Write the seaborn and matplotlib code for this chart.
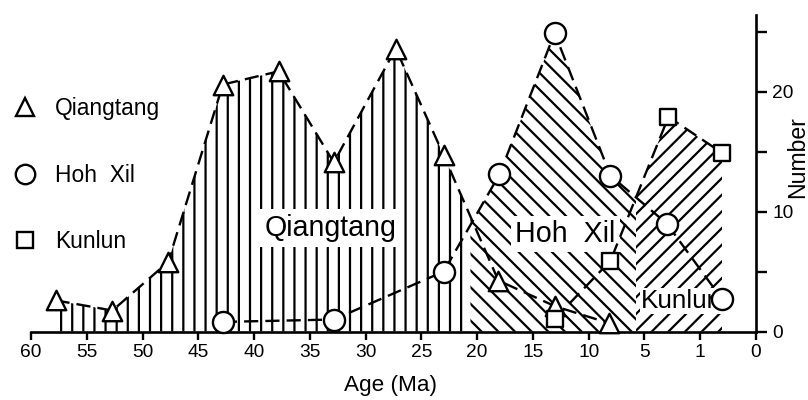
import numpy as np
import pandas as pd
import matplotlib
matplotlib.use("Agg")
import matplotlib.pyplot as plt
import seaborn as sns
from matplotlib.lines import Line2D

# ---------------- data ----------------
qt_age = [57.8, 52.7, 47.7, 42.8, 37.8, 32.85, 27.3, 23.0, 18.1, 13.0, 8.2]
qt_num = [2.6, 1.75, 5.8, 20.6, 21.7, 14.1, 23.6, 14.7, 4.25, 2.1, 0.7]

hx_age = [42.8, 32.85, 23.0, 18.0, 13.05, 8.05, 3.0, -1.95]
hx_num = [0.8, 1.0, 5.0, 13.1, 24.9, 13.0, 9.0, 2.7]

kl_age = [13.05, 8.05, 2.85, -1.95]
kl_num = [1.05, 5.9, 17.9, 14.9]

series_labels = ["Qiangtang", "Hoh  Xil", "Kunlun"]
x_tick_pos = [60, 55, 50, 45, 40, 35, 30, 25, 20, 15, 10, 5, 0, -5]
x_tick_labels = ["60", "55", "50", "45", "40", "35", "30", "25", "20", "15", "10", "5", "1", "0"]
y_major = [0, 10, 20]
y_minor = [5, 15, 25]

# region limits (age) of the hatched areas
qt_hx_split = 20.6
hx_kl_split = 5.76

# ---------------- style ----------------
sns.set_style("ticks")
plt.rcParams["font.family"] = ["Liberation Sans", "DejaVu Sans"]
plt.rcParams["hatch.linewidth"] = 0.8
plt.rcParams["hatch.color"] = "black"
for k in ["text.color", "axes.labelcolor", "xtick.color", "ytick.color", "axes.edgecolor"]:
    plt.rcParams[k] = "black"

DPI = 200
fig = plt.figure(figsize=(4.04, 2.0), dpi=DPI)
L, R, B, T = 31 / 808, 756 / 808, 68.5 / 400, 385 / 400
ax = fig.add_axes([L, B, R - L, T - B])


def interp(ages, nums, x):
    a = np.asarray(ages)[::-1]
    n = np.asarray(nums)[::-1]
    return np.interp(x, a, n)


def grid(lo, hi, ages_list):
    pts = [np.linspace(lo, hi, 600)]
    for ages in ages_list:
        a = np.asarray(ages)
        pts.append(a[(a >= lo) & (a <= hi)])
    return np.unique(np.concatenate(pts))


# Qiangtang area (vertical hatch)
xq = grid(qt_hx_split, qt_age[0], [qt_age])
ax.fill_between(xq, 0, interp(qt_age, qt_num, xq), facecolor="white",
                edgecolor="black", hatch="|||", linewidth=0, zorder=1)

# Hoh Xil area (back-diagonal hatch)
xh = grid(hx_kl_split, qt_hx_split, [qt_age, hx_age])
top_h = np.maximum(interp(qt_age, qt_num, xh), interp(hx_age, hx_num, xh))
ax.fill_between(xh, 0, top_h, facecolor="white", edgecolor="black",
                hatch="\\\\\\\\", linewidth=0, zorder=1)

# Kunlun area (forward-diagonal hatch)
xk = grid(kl_age[-1], hx_kl_split, [kl_age])
ax.fill_between(xk, 0, interp(kl_age, kl_num, xk), facecolor="white",
                edgecolor="black", hatch="////", linewidth=0, zorder=1)

# area labels
ax.text(33.1, 7.96, "Qiangtang", ha="center", va="baseline", fontsize=10.3,
        zorder=3, bbox=dict(facecolor="white", edgecolor="none", pad=1.8))
ax.text(12.1, 7.46, "Hoh  Xil", ha="center", va="baseline", fontsize=10.3,
        zorder=3, bbox=dict(facecolor="white", edgecolor="none", pad=1.5))
ax.text(1.7, 1.96, "Kunlun", ha="center", va="baseline", fontsize=9.4,
        zorder=3, bbox=dict(facecolor="white", edgecolor="none", pad=0.3))

# dashed lines
ls = (0, (6, 3))
lw = 0.85
for ages, nums in [(qt_age, qt_num), (hx_age, hx_num), (kl_age, kl_num)]:
    df = pd.DataFrame({"age": ages, "n": nums})
    sns.lineplot(data=df, x="age", y="n", sort=False, color="black",
                 linewidth=lw, linestyle=ls, ax=ax, zorder=4)

# markers
mk = [("^", 7.0, qt_age, qt_num), ("o", 7.6, hx_age, hx_num), ("s", 5.8, kl_age, kl_num)]
for m, ms, ages, nums in mk:
    sns.scatterplot(x=ages, y=nums, marker=m, s=ms ** 2, facecolor="white",
                    edgecolor="black", linewidth=0.85, ax=ax, zorder=5, clip_on=False)

# axes
ax.set_xlim(60, -5)
ax.set_ylim(0, 26.4)
for s in ["left", "top"]:
    ax.spines[s].set_visible(False)
for s in ["bottom", "right"]:
    ax.spines[s].set_linewidth(0.95)
ax.set_xticks(x_tick_pos)
ax.set_xticklabels(x_tick_labels)
ax.yaxis.tick_right()
ax.yaxis.set_label_position("right")
ax.set_yticks(y_major)
ax.set_yticks(y_minor, minor=True)
ax.set_yticklabels([str(v) for v in y_major])
ax.tick_params(axis="x", direction="out", length=2.9, width=0.85, labelsize=6.9, pad=1.6)
ax.tick_params(axis="y", which="both", direction="out", length=4.0, width=0.85,
               labelsize=6.9, pad=1.8, left=False, right=True)

ax.set_xlabel("Age (Ma)", fontsize=8.1)
ax.xaxis.set_label_coords((391 - 31) / 725, (331.5 - 385) / 316.5)
ax.xaxis.label.set_va("center")
ax.set_ylabel("Number", fontsize=8.3, rotation=90)
ax.yaxis.set_label_coords((798 - 31) / 725, (331.5 - 157) / 316.5)
ax.yaxis.label.set_va("center")

# legend
handles = [Line2D([], [], marker=m, linestyle="none", markerfacecolor="white",
                  markeredgecolor="black", markeredgewidth=0.85, markersize=ms)
           for m, ms in [("^", 6.5), ("o", 7.0), ("s", 5.6)]]
fs = 8.2
fs_px = fs * DPI / 72
ax.legend(handles, series_labels, loc="center left",
          bbox_to_anchor=((25 - fs_px * 0.5) / 808, 1 - 175 / 400),
          bbox_transform=fig.transFigure, frameon=False, fontsize=fs,
          handlelength=1.0, handletextpad=(55 - 25 - fs_px * 0.5) / fs_px,
          labelspacing=1.9, borderpad=0, borderaxespad=0)

fig.savefig("out.png", dpi=DPI, facecolor="white")
